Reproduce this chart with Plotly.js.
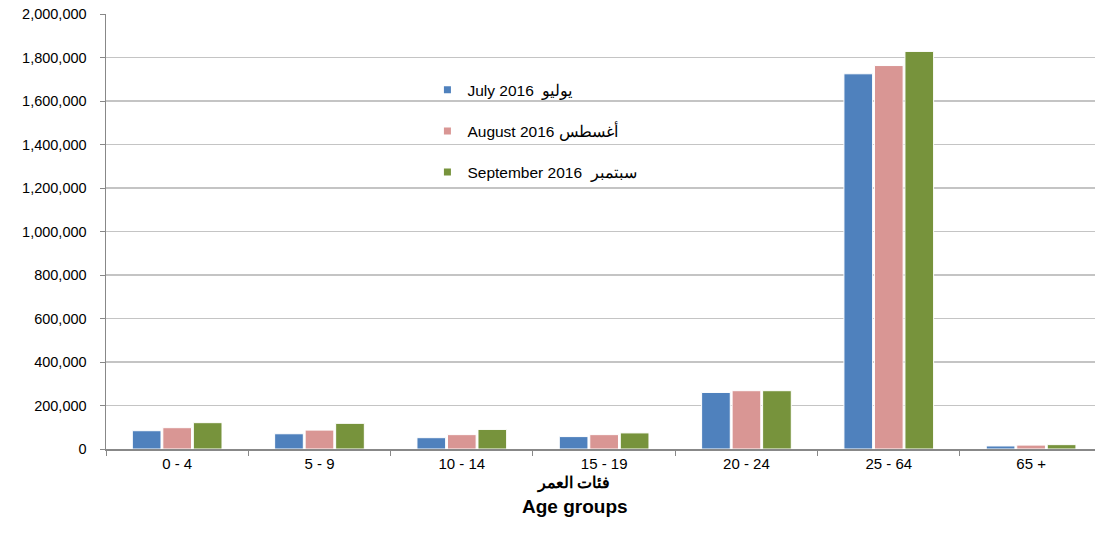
<!DOCTYPE html>
<html>
<head>
<meta charset="utf-8">
<script src="https://cdn.plot.ly/plotly-3.0.1.min.js"></script>
<style>html,body{margin:0;padding:0;background:#fff;overflow:hidden}</style>
</head>
<body>
<div id="chart" style="width:1095px;height:546px"></div>
<script>
var categories = ["0 - 4", "5 - 9", "10 - 14", "15 - 19", "20 - 24", "25 - 64", "65 +"];
var july2016 = [84000, 70000, 52000, 57000, 260000, 1725000, 14000];
var august2016 = [98000, 87000, 66000, 66000, 268000, 1763000, 18000];
var september2016 = [121000, 118000, 90000, 74000, 268000, 1828000, 20000];
var seriesNames = ["July 2016  يوليو", "August 2016 أغسطس", "September 2016  سبتمبر"];
var seriesColors = ["#4F81BD", "#D99694", "#77933C"];
var yTickVals = [0, 200000, 400000, 600000, 800000, 1000000, 1200000, 1400000, 1600000, 1800000, 2000000];
var yTickText = ["0", "200,000", "400,000", "600,000", "800,000", "1,000,000", "1,200,000", "1,400,000", "1,600,000", "1,800,000", "2,000,000"];
var axisTitleAr = "فئات العمر";
var axisTitleEn = "Age groups";

var seriesValues = [july2016, august2016, september2016];
var traces = [];
seriesValues.forEach(function (vals, i) {
  traces.push({
    type: "bar", x: categories, y: vals, name: seriesNames[i],
    marker: {color: seriesColors[i], line: {color: "#ffffff", width: 1}},
    showlegend: false, hoverinfo: "x+y"
  });
});
seriesValues.forEach(function (vals, i) {
  traces.push({
    type: "scatter", mode: "markers", x: [null], y: [null], name: seriesNames[i],
    marker: {color: seriesColors[i], symbol: "square", size: 7},
    legendgroup: "g" + i, showlegend: true
  });
});

var font = "Arial, 'Liberation Sans', sans-serif";
var layout = {
  width: 1095, height: 546,
  margin: {l: 105.5, r: 0, t: 14, b: 96.7},
  paper_bgcolor: "#ffffff", plot_bgcolor: "#ffffff",
  font: {family: font, size: 15, color: "#000000"},
  barmode: "group", bargap: 0.357, bargroupgap: 0.06,
  xaxis: {
    type: "category", range: [-0.5, 6.449], tickson: "boundaries",
    ticks: "outside", ticklen: 5, tickcolor: "#888888",
    showline: true, linecolor: "#888888", linewidth: 1.5,
    showgrid: false, tickfont: {size: 15, family: font}, fixedrange: true
  },
  yaxis: {
    range: [0, 2000000], tickvals: yTickVals, ticktext: yTickText,
    ticks: "outside", ticklen: 5, tickcolor: "#888888",
    showline: true, linecolor: "#888888", linewidth: 1.5,
    showgrid: true, gridcolor: "#C4C4C4", gridwidth: 1.5, zeroline: false,
    tickfont: {size: 14.5, family: font}, ticklabelstandoff: 10, fixedrange: true
  },
  legend: {
    x: 0.325, y: 0.864, xanchor: "left", yanchor: "top",
    bgcolor: "rgba(0,0,0,0)", font: {size: 15.5, family: font},
    traceorder: "grouped", tracegroupgap: 18, itemwidth: 30
  },
  annotations: [
    {xref: "paper", yref: "paper", x: 0.4725, y: -0.0797, xanchor: "center", yanchor: "middle",
     text: "<b>" + axisTitleAr + "</b>", showarrow: false, font: {size: 16, family: font}},
    {xref: "paper", yref: "paper", x: 0.4745, y: -0.1326, xanchor: "center", yanchor: "middle",
     text: "<b>" + axisTitleEn + "</b>", showarrow: false, font: {size: 19, family: font}}
  ]
};
Plotly.newPlot("chart", traces, layout, {displayModeBar: false, staticPlot: true});
</script>
</body>
</html>
